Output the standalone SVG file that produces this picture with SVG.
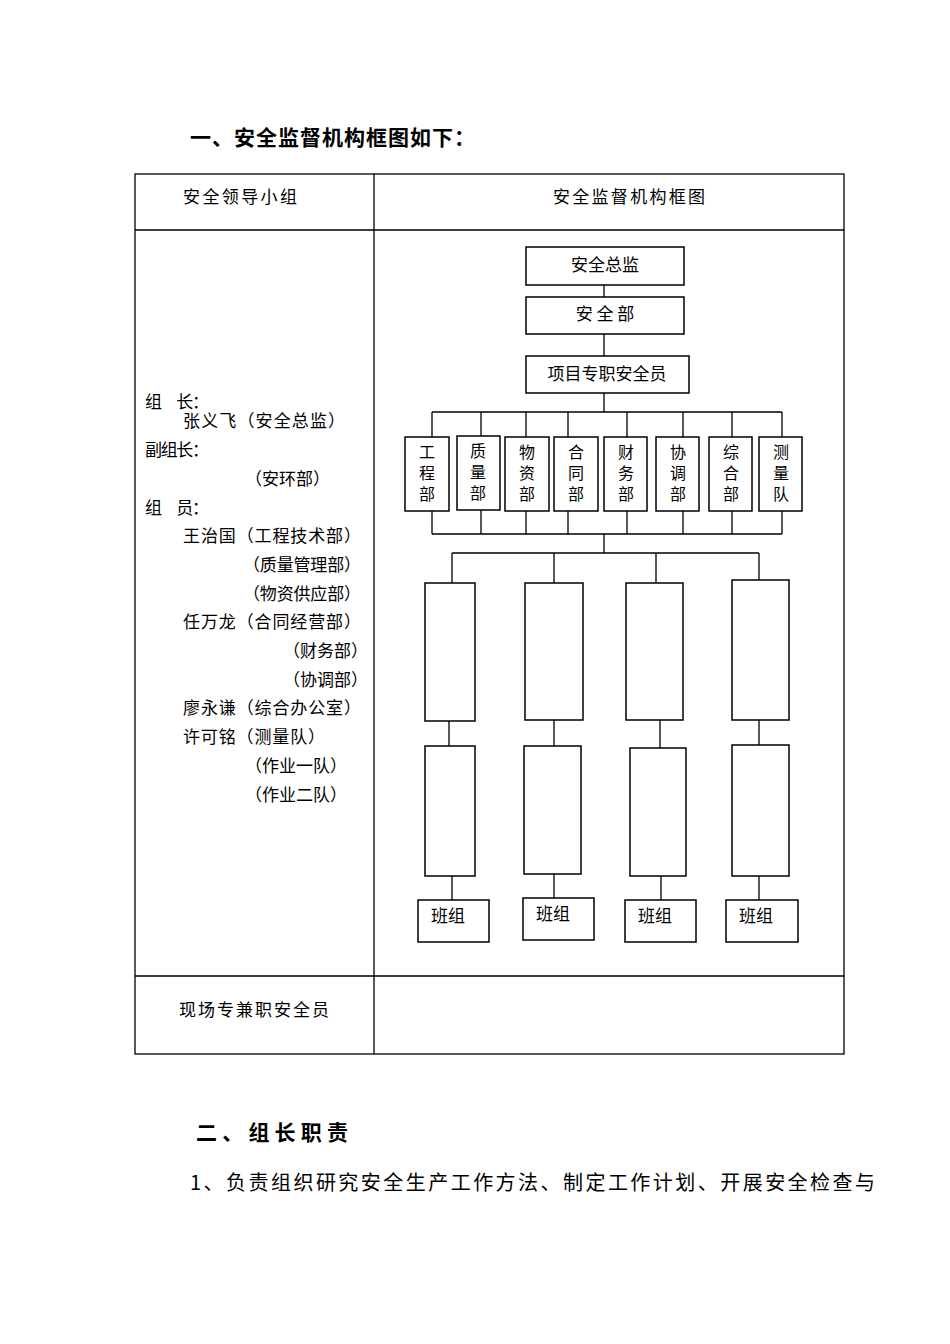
<svg xmlns="http://www.w3.org/2000/svg" width="950" height="1344" viewBox="0 0 950 1344">
<style>
text{font-family:"Noto Sans CJK SC","Liberation Sans",sans-serif;fill:#000}
.t{font-size:17px}
.s{font-size:17px}
.d{font-size:16px;writing-mode:vertical-rl;letter-spacing:5px}
.h{font-size:21px;font-weight:bold}
.b{fill:#fff;stroke:#000;stroke-width:1.5}
.l{stroke:#000;stroke-width:1.3;fill:none}
.m{text-anchor:middle}
</style>
<rect width="950" height="1344" fill="#fff"/>
<text class="h" x="190" y="145" style="letter-spacing:1px">一、安全监督机构框图如下：</text>
<g id="table" class="l">
<rect x="135" y="174" width="709" height="880"/>
<line x1="374" y1="174" x2="374" y2="1054"/>
<line x1="135" y1="230" x2="844" y2="230"/>
<line x1="135" y1="976" x2="844" y2="976"/>
</g>
<text class="t" x="183" y="203" textLength="114" lengthAdjust="spacing">安全领导小组</text>
<text class="t" x="553" y="203" textLength="152" lengthAdjust="spacing">安全监督机构框图</text>
<text class="t" x="179" y="1016" textLength="150" lengthAdjust="spacing">现场专兼职安全员</text>
<g id="members" class="s">
<text x="145" y="408" textLength="64" lengthAdjust="spacing">组　长：</text>
<text x="183" y="427" textLength="162" lengthAdjust="spacing">张义飞（安全总监）</text>
<text x="145" y="456" textLength="64" lengthAdjust="spacing">副组长：</text>
<text x="245" y="485">（安环部）</text>
<text x="145" y="514" textLength="64" lengthAdjust="spacing">组　员：</text>
<text x="183" y="542" textLength="178" lengthAdjust="spacing">王治国（工程技术部）</text>
<text x="243" y="571" textLength="118" lengthAdjust="spacing">（质量管理部）</text>
<text x="243" y="600" textLength="118" lengthAdjust="spacing">（物资供应部）</text>
<text x="183" y="628" textLength="178" lengthAdjust="spacing">任万龙（合同经营部）</text>
<text x="283" y="657">（财务部）</text>
<text x="283" y="686">（协调部）</text>
<text x="183" y="714" textLength="178" lengthAdjust="spacing">廖永谦（综合办公室）</text>
<text x="183" y="743" textLength="142" lengthAdjust="spacing">许可铭（测量队）</text>
<text x="245" y="772">（作业一队）</text>
<text x="245" y="801">（作业二队）</text>
</g>
<g id="connectors" class="l">
<line x1="604" y1="285" x2="604" y2="297"/>
<line x1="604" y1="334" x2="604" y2="356"/>
<line x1="604" y1="393" x2="604" y2="412"/>
<line x1="432" y1="412" x2="782" y2="412"/>
<path d="M432 412V437M481 412V436M526 412V437M568 412V437M627 412V437M683 412V437M732 412V437M782 412V437"/>
<path d="M432 511V534M481 510V534M526 511V534M568 511V534M627 511V534M683 511V534M732 511V534M782 511V534"/>
<line x1="432" y1="534" x2="782" y2="534"/>
<line x1="604" y1="534" x2="604" y2="553"/>
<line x1="452" y1="553" x2="759" y2="553"/>
<path d="M452 553V583M554 553V583M656 553V583M759 553V580"/>
<path d="M449 721V746M452 876V900M554 720V746M554 874V898M660 720V748M661 876V900M759 720V745M759 876V900"/>
</g>
<g id="n1"><rect class="b" x="526" y="247" width="158" height="38"/><text class="t m" x="605" y="271">安全总监</text></g>
<g id="n2"><rect class="b" x="526" y="297" width="158" height="37"/><text class="t m" x="605" y="320">安 全 部</text></g>
<g id="n3"><rect class="b" x="526" y="356" width="163" height="37"/><text class="t m" x="607" y="380">项目专职安全员</text></g>
<g>
<g id="d1"><rect class="b" x="405" y="437" width="44" height="74"/><text class="d" x="427" y="444">工程部</text></g>
<g id="d2"><rect class="b" x="457" y="436" width="43" height="74"/><text class="d" x="478" y="443">质量部</text></g>
<g id="d3"><rect class="b" x="505" y="437" width="44" height="74"/><text class="d" x="527" y="444">物资部</text></g>
<g id="d4"><rect class="b" x="554" y="437" width="44" height="74"/><text class="d" x="576" y="444">合同部</text></g>
<g id="d5"><rect class="b" x="604" y="437" width="43" height="74"/><text class="d" x="626" y="444">财务部</text></g>
<g id="d6"><rect class="b" x="656" y="437" width="43" height="74"/><text class="d" x="678" y="444">协调部</text></g>
<g id="d7"><rect class="b" x="709" y="437" width="43" height="74"/><text class="d" x="731" y="444">综合部</text></g>
<g id="d8"><rect class="b" x="759" y="437" width="43" height="74"/><text class="d" x="781" y="444">测量队</text></g>
</g>
<g id="c1"><rect class="b" x="425" y="583" width="50" height="138"/><rect class="b" x="425" y="746" width="50" height="130"/></g>
<g id="c2"><rect class="b" x="525" y="583" width="58" height="137"/><rect class="b" x="524" y="746" width="57" height="128"/></g>
<g id="c3"><rect class="b" x="626" y="583" width="57" height="137"/><rect class="b" x="630" y="748" width="56" height="128"/></g>
<g id="c4"><rect class="b" x="732" y="580" width="57" height="140"/><rect class="b" x="732" y="745" width="57" height="131"/></g>
<g id="g1"><rect class="b" x="418" y="900" width="71" height="42"/><text class="t" x="431" y="922">班组</text></g>
<g id="g2"><rect class="b" x="523" y="898" width="71" height="42"/><text class="t" x="536" y="920">班组</text></g>
<g id="g3"><rect class="b" x="625" y="900" width="71" height="42"/><text class="t" x="638" y="922">班组</text></g>
<g id="g4"><rect class="b" x="726" y="900" width="72" height="42"/><text class="t" x="739" y="922">班组</text></g>
<text class="h" x="196" y="1140" textLength="152" lengthAdjust="spacing">二、组长职责</text>
<text x="190" y="1190" style="font-size:20px" textLength="685" lengthAdjust="spacing">1、负责组织研究安全生产工作方法、制定工作计划、开展安全检查与</text>
</svg>
